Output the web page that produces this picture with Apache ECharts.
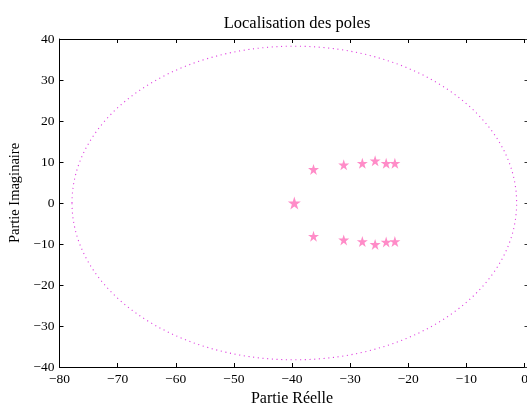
<!DOCTYPE html>
<html>
<head>
<meta charset="utf-8">
<script src="https://cdn.jsdelivr.net/npm/echarts@6/dist/echarts.min.js"></script>
<style>
html,body{margin:0;padding:0;background:#fff;}
#chart{width:527px;height:403px;}
</style>
</head>
<body>
<div id="chart"></div>
<script>
// Pole locations (real part, imaginary part)
const poleReal = [-39.6, -36.3, -31.1, -27.9, -25.7, -23.8, -22.3, -36.3, -31.1, -27.9, -25.7, -23.8, -22.3];
const poleImag = [0, 8.2, 9.3, 9.7, 10.3, 9.7, 9.7, -8.1, -9.0, -9.4, -10.1, -9.5, -9.4];
// Reference circle: centre (real, imag) and radius
const circleCenter = [-39.6, 0];
const circleRadius = [38.25];
// Axis ticks
const xTicks = [-80, -70, -60, -50, -40, -30, -20, -10, 0];
const yTicks = [-40, -30, -20, -10, 0, 10, 20, 30, 40];

const FONT = '"Liberation Serif", "DejaVu Serif", serif';
const fmt = v => String(v).replace('-', '\u2212');
const STAR = 'path://M50,0 L61.2,34.5 L97.6,34.5 L68.2,55.9 L79.4,90.5 L50,69.1 L20.6,90.5 L31.8,55.9 L2.4,34.5 L38.8,34.5 Z';

const poles = poleReal.map((r, i) => [r, poleImag[i]]);

const chart = echarts.init(document.getElementById('chart'), null, {renderer: 'canvas'});
const axisLine = {show: true, onZero: false, lineStyle: {color: '#000', width: 1}};
const option = {
  animation: false,
  backgroundColor: '#fff',
  title: {
    text: 'Localisation des poles',
    left: 292, top: 10, textAlign: 'center',
    textStyle: {fontFamily: FONT, fontSize: 16.5, fontWeight: 'normal', color: '#000'}
  },
  grid: {left: 59.5, top: 39, width: 465, height: 328, containLabel: false, outerBoundsMode: 'none'},
  xAxis: [{
    type: 'value', min: xTicks[0], max: xTicks[xTicks.length - 1], interval: 10,
    position: 'bottom',
    name: 'Partie Réelle', nameLocation: 'middle', nameGap: 18,
    nameTextStyle: {fontFamily: FONT, fontSize: 16, color: '#000'},
    axisLine: axisLine,
    axisTick: {show: true, inside: true, length: 4, lineStyle: {color: '#000'}},
    axisLabel: {formatter: fmt, fontFamily: FONT, fontSize: 13.5, color: '#000', margin: 5},
    splitLine: {show: false}
  }, {
    type: 'value', min: xTicks[0], max: xTicks[xTicks.length - 1], interval: 10,
    position: 'top',
    axisLine: axisLine,
    axisTick: {show: true, inside: true, length: 4, lineStyle: {color: '#000'}},
    axisLabel: {show: false},
    splitLine: {show: false}
  }],
  yAxis: [{
    type: 'value', min: yTicks[0], max: yTicks[yTicks.length - 1], interval: 10,
    position: 'left',
    name: 'Partie Imaginaire', nameLocation: 'middle', nameGap: 34,
    nameTextStyle: {fontFamily: FONT, fontSize: 14.5, color: '#000', padding: [0, 0, 0, 20]},
    axisLine: axisLine,
    axisTick: {show: true, inside: true, length: 4, lineStyle: {color: '#000'}},
    axisLabel: {formatter: fmt, fontFamily: FONT, fontSize: 13.5, color: '#000', margin: 5},
    splitLine: {show: false}
  }, {
    type: 'value', min: yTicks[0], max: yTicks[yTicks.length - 1], interval: 10,
    position: 'right',
    axisLine: {show: false},
    axisTick: {show: true, inside: false, length: 3, lineStyle: {color: '#333'}},
    axisLabel: {show: false},
    splitLine: {show: false}
  }],
  series: [{
    type: 'custom',
    xAxisIndex: 0, yAxisIndex: 0,
    silent: true,
    data: [[circleCenter[0], circleCenter[1], circleRadius[0]]],
    renderItem: function (params, api) {
      const c = api.coord([api.value(0), api.value(1)]);
      const s = api.size([api.value(2), api.value(2)]);
      return {
        type: 'ellipse',
        shape: {cx: c[0], cy: c[1], rx: s[0], ry: s[1]},
        style: {fill: null, stroke: '#e040e0', lineWidth: 1.1, lineDash: [1.1, 3.6]}
      };
    }
  }, {
    type: 'scatter',
    xAxisIndex: 0, yAxisIndex: 0,
    data: poles,
    symbol: STAR,
    symbolSize: function (v, p) { return p.dataIndex === 0 ? 13 : 11; },
    itemStyle: {color: '#ff8cc8', opacity: 1}
  }]
};
chart.setOption(option);
</script>
</body>
</html>
